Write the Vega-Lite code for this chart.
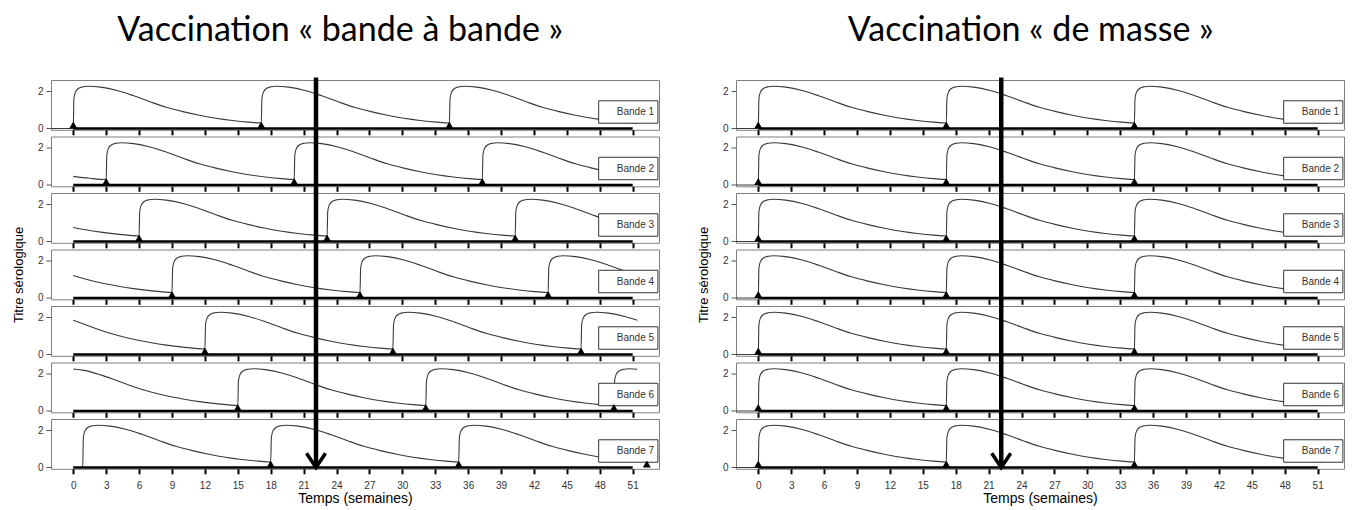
{
"$schema": "https://vega.github.io/schema/vega-lite/v6.json",
"background": "white",
"padding": {"left": 11, "top": 13, "right": 0, "bottom": 0},
"config": {
  "view": {"stroke": "#808080", "strokeWidth": 1},
  "axis": {"grid": false, "domain": false, "labelFont": "Liberation Sans", "labelFontSize": 10, "labelColor": "#333333", "labelOverlap": false, "labelFlush": false, "titleFont": "Liberation Sans", "titleFontWeight": "normal", "titleColor": "black"},
  "axisX": {"tickSize": 5, "tickWidth": 2, "tickColor": "black", "labelPadding": 7, "titleFontSize": 14, "titlePadding": 1, "tickCount": 30},
  "axisY": {"tickSize": 5, "tickWidth": 1, "tickColor": "#555555", "labelPadding": 3, "titleFontSize": 13, "titlePadding": 12},
  "title": {"font": "Lato", "fontSize": 34, "fontWeight": "normal", "color": "black", "anchor": "middle"}
},
"datasets": {
"bab": [
{"bande":1,"t":-2,"titre":0},{"bande":1,"t":0,"titre":0},
{"bande":1,"t":0.06,"titre":1.6},{"bande":1,"t":0.2,"titre":1.95},{"bande":1,"t":0.5,"titre":2.15},{"bande":1,"t":0.9,"titre":2.23},{"bande":1,"t":1.4,"titre":2.26},{"bande":1,"t":2.5,"titre":2.21},{"bande":1,"t":4,"titre":2.03},{"bande":1,"t":5.5,"titre":1.75},{"bande":1,"t":7,"titre":1.43},{"bande":1,"t":8.5,"titre":1.13},{"bande":1,"t":10,"titre":0.9},{"bande":1,"t":11.5,"titre":0.71},{"bande":1,"t":13,"titre":0.55},{"bande":1,"t":14.5,"titre":0.43},{"bande":1,"t":16,"titre":0.34},{"bande":1,"t":17.14,"titre":0.295},
{"bande":1,"t":17.2,"titre":1.6},{"bande":1,"t":17.34,"titre":1.95},{"bande":1,"t":17.64,"titre":2.15},{"bande":1,"t":18.04,"titre":2.23},{"bande":1,"t":18.54,"titre":2.26},{"bande":1,"t":19.64,"titre":2.21},{"bande":1,"t":21.14,"titre":2.03},{"bande":1,"t":22.64,"titre":1.75},{"bande":1,"t":24.14,"titre":1.43},{"bande":1,"t":25.64,"titre":1.13},{"bande":1,"t":27.14,"titre":0.9},{"bande":1,"t":28.64,"titre":0.71},{"bande":1,"t":30.14,"titre":0.55},{"bande":1,"t":31.64,"titre":0.43},{"bande":1,"t":33.14,"titre":0.34},{"bande":1,"t":34.29,"titre":0.295},
{"bande":1,"t":34.35,"titre":1.6},{"bande":1,"t":34.49,"titre":1.95},{"bande":1,"t":34.79,"titre":2.15},{"bande":1,"t":35.19,"titre":2.23},{"bande":1,"t":35.69,"titre":2.26},{"bande":1,"t":36.79,"titre":2.21},{"bande":1,"t":38.29,"titre":2.03},{"bande":1,"t":39.79,"titre":1.75},{"bande":1,"t":41.29,"titre":1.43},{"bande":1,"t":42.79,"titre":1.13},{"bande":1,"t":44.29,"titre":0.9},{"bande":1,"t":45.79,"titre":0.71},{"bande":1,"t":47.29,"titre":0.55},{"bande":1,"t":48.79,"titre":0.43},{"bande":1,"t":50.29,"titre":0.34},{"bande":1,"t":51.43,"titre":0.295},

{"bande":2,"t":0,"titre":0.46},{"bande":2,"t":1.5,"titre":0.36},{"bande":2,"t":3,"titre":0.295},
{"bande":2,"t":3.06,"titre":1.6},{"bande":2,"t":3.2,"titre":1.95},{"bande":2,"t":3.5,"titre":2.15},{"bande":2,"t":3.9,"titre":2.23},{"bande":2,"t":4.4,"titre":2.26},{"bande":2,"t":5.5,"titre":2.21},{"bande":2,"t":7,"titre":2.03},{"bande":2,"t":8.5,"titre":1.75},{"bande":2,"t":10,"titre":1.43},{"bande":2,"t":11.5,"titre":1.13},{"bande":2,"t":13,"titre":0.9},{"bande":2,"t":14.5,"titre":0.71},{"bande":2,"t":16,"titre":0.55},{"bande":2,"t":17.5,"titre":0.43},{"bande":2,"t":19,"titre":0.34},{"bande":2,"t":20.14,"titre":0.295},
{"bande":2,"t":20.2,"titre":1.6},{"bande":2,"t":20.34,"titre":1.95},{"bande":2,"t":20.64,"titre":2.15},{"bande":2,"t":21.04,"titre":2.23},{"bande":2,"t":21.54,"titre":2.26},{"bande":2,"t":22.64,"titre":2.21},{"bande":2,"t":24.14,"titre":2.03},{"bande":2,"t":25.64,"titre":1.75},{"bande":2,"t":27.14,"titre":1.43},{"bande":2,"t":28.64,"titre":1.13},{"bande":2,"t":30.14,"titre":0.9},{"bande":2,"t":31.64,"titre":0.71},{"bande":2,"t":33.14,"titre":0.55},{"bande":2,"t":34.64,"titre":0.43},{"bande":2,"t":36.14,"titre":0.34},{"bande":2,"t":37.29,"titre":0.295},
{"bande":2,"t":37.35,"titre":1.6},{"bande":2,"t":37.49,"titre":1.95},{"bande":2,"t":37.79,"titre":2.15},{"bande":2,"t":38.19,"titre":2.23},{"bande":2,"t":38.69,"titre":2.26},{"bande":2,"t":39.79,"titre":2.21},{"bande":2,"t":41.29,"titre":2.03},{"bande":2,"t":42.79,"titre":1.75},{"bande":2,"t":44.29,"titre":1.43},{"bande":2,"t":45.79,"titre":1.13},{"bande":2,"t":47.29,"titre":0.9},{"bande":2,"t":48.79,"titre":0.71},{"bande":2,"t":50.29,"titre":0.55},{"bande":2,"t":51.43,"titre":0.46},

{"bande":3,"t":0,"titre":0.75},{"bande":3,"t":1,"titre":0.64},{"bande":3,"t":2.5,"titre":0.5},{"bande":3,"t":4,"titre":0.395},{"bande":3,"t":6,"titre":0.295},
{"bande":3,"t":6.06,"titre":1.6},{"bande":3,"t":6.2,"titre":1.95},{"bande":3,"t":6.5,"titre":2.15},{"bande":3,"t":6.9,"titre":2.23},{"bande":3,"t":7.4,"titre":2.26},{"bande":3,"t":8.5,"titre":2.21},{"bande":3,"t":10,"titre":2.03},{"bande":3,"t":11.5,"titre":1.75},{"bande":3,"t":13,"titre":1.43},{"bande":3,"t":14.5,"titre":1.13},{"bande":3,"t":16,"titre":0.9},{"bande":3,"t":17.5,"titre":0.71},{"bande":3,"t":19,"titre":0.55},{"bande":3,"t":20.5,"titre":0.43},{"bande":3,"t":22,"titre":0.34},{"bande":3,"t":23.14,"titre":0.295},
{"bande":3,"t":23.2,"titre":1.6},{"bande":3,"t":23.34,"titre":1.95},{"bande":3,"t":23.64,"titre":2.15},{"bande":3,"t":24.04,"titre":2.23},{"bande":3,"t":24.54,"titre":2.26},{"bande":3,"t":25.64,"titre":2.21},{"bande":3,"t":27.14,"titre":2.03},{"bande":3,"t":28.64,"titre":1.75},{"bande":3,"t":30.14,"titre":1.43},{"bande":3,"t":31.64,"titre":1.13},{"bande":3,"t":33.14,"titre":0.9},{"bande":3,"t":34.64,"titre":0.71},{"bande":3,"t":36.14,"titre":0.55},{"bande":3,"t":37.64,"titre":0.43},{"bande":3,"t":39.14,"titre":0.34},{"bande":3,"t":40.29,"titre":0.295},
{"bande":3,"t":40.35,"titre":1.6},{"bande":3,"t":40.49,"titre":1.95},{"bande":3,"t":40.79,"titre":2.15},{"bande":3,"t":41.19,"titre":2.23},{"bande":3,"t":41.69,"titre":2.26},{"bande":3,"t":42.79,"titre":2.21},{"bande":3,"t":44.29,"titre":2.03},{"bande":3,"t":45.79,"titre":1.75},{"bande":3,"t":47.29,"titre":1.43},{"bande":3,"t":48.79,"titre":1.13},{"bande":3,"t":50.29,"titre":0.9},{"bande":3,"t":51.43,"titre":0.75},

{"bande":4,"t":0,"titre":1.2},{"bande":4,"t":1,"titre":1.03},{"bande":4,"t":2.5,"titre":0.81},{"bande":4,"t":4,"titre":0.64},{"bande":4,"t":5.5,"titre":0.5},{"bande":4,"t":7,"titre":0.395},{"bande":4,"t":9,"titre":0.295},
{"bande":4,"t":9.06,"titre":1.6},{"bande":4,"t":9.2,"titre":1.95},{"bande":4,"t":9.5,"titre":2.15},{"bande":4,"t":9.9,"titre":2.23},{"bande":4,"t":10.4,"titre":2.26},{"bande":4,"t":11.5,"titre":2.21},{"bande":4,"t":13,"titre":2.03},{"bande":4,"t":14.5,"titre":1.75},{"bande":4,"t":16,"titre":1.43},{"bande":4,"t":17.5,"titre":1.13},{"bande":4,"t":19,"titre":0.9},{"bande":4,"t":20.5,"titre":0.71},{"bande":4,"t":22,"titre":0.55},{"bande":4,"t":23.5,"titre":0.43},{"bande":4,"t":25,"titre":0.34},{"bande":4,"t":26.14,"titre":0.295},
{"bande":4,"t":26.2,"titre":1.6},{"bande":4,"t":26.34,"titre":1.95},{"bande":4,"t":26.64,"titre":2.15},{"bande":4,"t":27.04,"titre":2.23},{"bande":4,"t":27.54,"titre":2.26},{"bande":4,"t":28.64,"titre":2.21},{"bande":4,"t":30.14,"titre":2.03},{"bande":4,"t":31.64,"titre":1.75},{"bande":4,"t":33.14,"titre":1.43},{"bande":4,"t":34.64,"titre":1.13},{"bande":4,"t":36.14,"titre":0.9},{"bande":4,"t":37.64,"titre":0.71},{"bande":4,"t":39.14,"titre":0.55},{"bande":4,"t":40.64,"titre":0.43},{"bande":4,"t":42.14,"titre":0.34},{"bande":4,"t":43.29,"titre":0.295},
{"bande":4,"t":43.35,"titre":1.6},{"bande":4,"t":43.49,"titre":1.95},{"bande":4,"t":43.79,"titre":2.15},{"bande":4,"t":44.19,"titre":2.23},{"bande":4,"t":44.69,"titre":2.26},{"bande":4,"t":45.79,"titre":2.21},{"bande":4,"t":47.29,"titre":2.03},{"bande":4,"t":48.79,"titre":1.75},{"bande":4,"t":50.29,"titre":1.43},{"bande":4,"t":51.43,"titre":1.2},

{"bande":5,"t":0,"titre":1.83},{"bande":5,"t":1,"titre":1.62},{"bande":5,"t":2.5,"titre":1.3},{"bande":5,"t":4,"titre":1.03},{"bande":5,"t":5.5,"titre":0.81},{"bande":5,"t":7,"titre":0.64},{"bande":5,"t":8.5,"titre":0.5},{"bande":5,"t":10,"titre":0.395},{"bande":5,"t":12,"titre":0.295},
{"bande":5,"t":12.06,"titre":1.6},{"bande":5,"t":12.2,"titre":1.95},{"bande":5,"t":12.5,"titre":2.15},{"bande":5,"t":12.9,"titre":2.23},{"bande":5,"t":13.4,"titre":2.26},{"bande":5,"t":14.5,"titre":2.21},{"bande":5,"t":16,"titre":2.03},{"bande":5,"t":17.5,"titre":1.75},{"bande":5,"t":19,"titre":1.43},{"bande":5,"t":20.5,"titre":1.13},{"bande":5,"t":22,"titre":0.9},{"bande":5,"t":23.5,"titre":0.71},{"bande":5,"t":25,"titre":0.55},{"bande":5,"t":26.5,"titre":0.43},{"bande":5,"t":28,"titre":0.34},{"bande":5,"t":29.14,"titre":0.295},
{"bande":5,"t":29.2,"titre":1.6},{"bande":5,"t":29.34,"titre":1.95},{"bande":5,"t":29.64,"titre":2.15},{"bande":5,"t":30.04,"titre":2.23},{"bande":5,"t":30.54,"titre":2.26},{"bande":5,"t":31.64,"titre":2.21},{"bande":5,"t":33.14,"titre":2.03},{"bande":5,"t":34.64,"titre":1.75},{"bande":5,"t":36.14,"titre":1.43},{"bande":5,"t":37.64,"titre":1.13},{"bande":5,"t":39.14,"titre":0.9},{"bande":5,"t":40.64,"titre":0.71},{"bande":5,"t":42.14,"titre":0.55},{"bande":5,"t":43.64,"titre":0.43},{"bande":5,"t":45.14,"titre":0.34},{"bande":5,"t":46.29,"titre":0.295},
{"bande":5,"t":46.35,"titre":1.6},{"bande":5,"t":46.49,"titre":1.95},{"bande":5,"t":46.79,"titre":2.15},{"bande":5,"t":47.19,"titre":2.23},{"bande":5,"t":47.69,"titre":2.26},{"bande":5,"t":48.79,"titre":2.21},{"bande":5,"t":50.29,"titre":2.03},{"bande":5,"t":51.43,"titre":1.83},

{"bande":6,"t":0,"titre":2.24},{"bande":6,"t":1,"titre":2.17},{"bande":6,"t":2.5,"titre":1.93},{"bande":6,"t":4,"titre":1.62},{"bande":6,"t":5.5,"titre":1.3},{"bande":6,"t":7,"titre":1.03},{"bande":6,"t":8.5,"titre":0.81},{"bande":6,"t":10,"titre":0.64},{"bande":6,"t":11.5,"titre":0.5},{"bande":6,"t":13,"titre":0.395},{"bande":6,"t":15,"titre":0.295},
{"bande":6,"t":15.06,"titre":1.6},{"bande":6,"t":15.2,"titre":1.95},{"bande":6,"t":15.5,"titre":2.15},{"bande":6,"t":15.9,"titre":2.23},{"bande":6,"t":16.4,"titre":2.26},{"bande":6,"t":17.5,"titre":2.21},{"bande":6,"t":19,"titre":2.03},{"bande":6,"t":20.5,"titre":1.75},{"bande":6,"t":22,"titre":1.43},{"bande":6,"t":23.5,"titre":1.13},{"bande":6,"t":25,"titre":0.9},{"bande":6,"t":26.5,"titre":0.71},{"bande":6,"t":28,"titre":0.55},{"bande":6,"t":29.5,"titre":0.43},{"bande":6,"t":31,"titre":0.34},{"bande":6,"t":32.14,"titre":0.295},
{"bande":6,"t":32.2,"titre":1.6},{"bande":6,"t":32.34,"titre":1.95},{"bande":6,"t":32.64,"titre":2.15},{"bande":6,"t":33.04,"titre":2.23},{"bande":6,"t":33.54,"titre":2.26},{"bande":6,"t":34.64,"titre":2.21},{"bande":6,"t":36.14,"titre":2.03},{"bande":6,"t":37.64,"titre":1.75},{"bande":6,"t":39.14,"titre":1.43},{"bande":6,"t":40.64,"titre":1.13},{"bande":6,"t":42.14,"titre":0.9},{"bande":6,"t":43.64,"titre":0.71},{"bande":6,"t":45.14,"titre":0.55},{"bande":6,"t":46.64,"titre":0.43},{"bande":6,"t":48.14,"titre":0.34},{"bande":6,"t":49.29,"titre":0.295},
{"bande":6,"t":49.35,"titre":1.6},{"bande":6,"t":49.49,"titre":1.95},{"bande":6,"t":49.79,"titre":2.15},{"bande":6,"t":50.19,"titre":2.23},{"bande":6,"t":50.69,"titre":2.26},{"bande":6,"t":51.43,"titre":2.23},

{"bande":7,"t":0,"titre":0},{"bande":7,"t":0.86,"titre":0},
{"bande":7,"t":0.92,"titre":1.6},{"bande":7,"t":1.06,"titre":1.95},{"bande":7,"t":1.36,"titre":2.15},{"bande":7,"t":1.76,"titre":2.23},{"bande":7,"t":2.26,"titre":2.26},{"bande":7,"t":3.36,"titre":2.21},{"bande":7,"t":4.86,"titre":2.03},{"bande":7,"t":6.36,"titre":1.75},{"bande":7,"t":7.86,"titre":1.43},{"bande":7,"t":9.36,"titre":1.13},{"bande":7,"t":10.86,"titre":0.9},{"bande":7,"t":12.36,"titre":0.71},{"bande":7,"t":13.86,"titre":0.55},{"bande":7,"t":15.36,"titre":0.43},{"bande":7,"t":16.86,"titre":0.34},{"bande":7,"t":18,"titre":0.295},
{"bande":7,"t":18.06,"titre":1.6},{"bande":7,"t":18.2,"titre":1.95},{"bande":7,"t":18.5,"titre":2.15},{"bande":7,"t":18.9,"titre":2.23},{"bande":7,"t":19.4,"titre":2.26},{"bande":7,"t":20.5,"titre":2.21},{"bande":7,"t":22,"titre":2.03},{"bande":7,"t":23.5,"titre":1.75},{"bande":7,"t":25,"titre":1.43},{"bande":7,"t":26.5,"titre":1.13},{"bande":7,"t":28,"titre":0.9},{"bande":7,"t":29.5,"titre":0.71},{"bande":7,"t":31,"titre":0.55},{"bande":7,"t":32.5,"titre":0.43},{"bande":7,"t":34,"titre":0.34},{"bande":7,"t":35.14,"titre":0.295},
{"bande":7,"t":35.2,"titre":1.6},{"bande":7,"t":35.34,"titre":1.95},{"bande":7,"t":35.64,"titre":2.15},{"bande":7,"t":36.04,"titre":2.23},{"bande":7,"t":36.54,"titre":2.26},{"bande":7,"t":37.64,"titre":2.21},{"bande":7,"t":39.14,"titre":2.03},{"bande":7,"t":40.64,"titre":1.75},{"bande":7,"t":42.14,"titre":1.43},{"bande":7,"t":43.64,"titre":1.13},{"bande":7,"t":45.14,"titre":0.9},{"bande":7,"t":46.64,"titre":0.71},{"bande":7,"t":48.14,"titre":0.55},{"bande":7,"t":49.64,"titre":0.43},{"bande":7,"t":51.14,"titre":0.34},{"bande":7,"t":51.43,"titre":0.33}
],
"masse": [
{"t":-2,"titre":0},{"t":0,"titre":0},
{"t":0.06,"titre":1.6},{"t":0.2,"titre":1.95},{"t":0.5,"titre":2.15},{"t":0.9,"titre":2.23},{"t":1.4,"titre":2.26},{"t":2.5,"titre":2.21},{"t":4,"titre":2.03},{"t":5.5,"titre":1.75},{"t":7,"titre":1.43},{"t":8.5,"titre":1.13},{"t":10,"titre":0.9},{"t":11.5,"titre":0.71},{"t":13,"titre":0.55},{"t":14.5,"titre":0.43},{"t":16,"titre":0.34},{"t":17.14,"titre":0.295},
{"t":17.2,"titre":1.6},{"t":17.34,"titre":1.95},{"t":17.64,"titre":2.15},{"t":18.04,"titre":2.23},{"t":18.54,"titre":2.26},{"t":19.64,"titre":2.21},{"t":21.14,"titre":2.03},{"t":22.64,"titre":1.75},{"t":24.14,"titre":1.43},{"t":25.64,"titre":1.13},{"t":27.14,"titre":0.9},{"t":28.64,"titre":0.71},{"t":30.14,"titre":0.55},{"t":31.64,"titre":0.43},{"t":33.14,"titre":0.34},{"t":34.29,"titre":0.295},
{"t":34.35,"titre":1.6},{"t":34.49,"titre":1.95},{"t":34.79,"titre":2.15},{"t":35.19,"titre":2.23},{"t":35.69,"titre":2.26},{"t":36.79,"titre":2.21},{"t":38.29,"titre":2.03},{"t":39.79,"titre":1.75},{"t":41.29,"titre":1.43},{"t":42.79,"titre":1.13},{"t":44.29,"titre":0.9},{"t":45.79,"titre":0.71},{"t":47.29,"titre":0.55},{"t":48.79,"titre":0.43},{"t":50.29,"titre":0.34},{"t":51.43,"titre":0.295}
],
"vbab": [
{"bande":1,"t":0},{"bande":1,"t":17.14},{"bande":1,"t":34.29},
{"bande":2,"t":3},{"bande":2,"t":20.14},{"bande":2,"t":37.29},
{"bande":3,"t":6},{"bande":3,"t":23.14},{"bande":3,"t":40.29},
{"bande":4,"t":9},{"bande":4,"t":26.14},{"bande":4,"t":43.29},
{"bande":5,"t":12},{"bande":5,"t":29.14},{"bande":5,"t":46.29},
{"bande":6,"t":15},{"bande":6,"t":32.14},{"bande":6,"t":49.29},
{"bande":7,"t":18},{"bande":7,"t":35.14},{"bande":7,"t":52.29}
],
"vmasse": [{"t":0},{"t":17.14},{"t":34.29}]
},
"hconcat": [
{
"title": {"text": "Vaccination « bande à bande »", "dx": 4.5, "offset": 27},
"bounds": "flush",
"spacing": 6.5,
"vconcat": [
{"width":608,"height":49.8,"layer":[
{"data":{"name":"bab"},"transform":[{"filter":"datum.bande==1"}],"mark":{"type":"line","interpolate":"monotone","stroke":"#3a3a3a","strokeWidth":1.1},"encoding":{"x":{"field":"t","type":"quantitative","scale":{"domain":[-2.03,53.4],"nice":false,"zero":false},"axis":{"values":[0,3,6,9,12,15,18,21,24,27,30,33,36,39,42,45,48,51],"tickCount":30,"labels":false,"title":null}},"y":{"field":"titre","type":"quantitative","scale":{"domain":[-0.07,2.59],"nice":false,"zero":false},"axis":{"values":[0,1,2],"title":null}}}},
{"data":{"values":[{}]},"mark":{"type":"rule","color":"black","strokeWidth":2.5},"encoding":{"x":{"datum":0},"x2":{"datum":51},"y":{"datum":0}}},
{"data":{"values":[{}]},"mark":{"type":"rect","fill":"white","stroke":"#333333","strokeWidth":1},"encoding":{"x":{"datum":47.9},"x2":{"datum":53.3},"y":{"datum":0.28},"y2":{"datum":1.48}}},
{"data":{"values":[{}]},"mark":{"type":"text","text":"Bande 1","align":"right","baseline":"middle","fontSize":10,"font":"Liberation Sans","color":"#333333"},"encoding":{"x":{"datum":52.95},"y":{"datum":0.88}}},
{"data":{"name":"vbab"},"transform":[{"filter":"datum.bande==1"}],"mark":{"type":"point","shape":"triangle-up","filled":true,"color":"black","opacity":1,"size":64},"encoding":{"x":{"field":"t","type":"quantitative"},"y":{"datum":0.19}}},
{"data":{"values":[{}]},"mark":{"type":"rule","color":"black","strokeWidth":4.5},"encoding":{"x":{"datum":22.13},"y":{"datum":-0.45},"y2":{"datum":2.72}}}
]},
{"width":608,"height":49.8,"layer":[
{"data":{"name":"bab"},"transform":[{"filter":"datum.bande==2"}],"mark":{"type":"line","interpolate":"monotone","stroke":"#3a3a3a","strokeWidth":1.1},"encoding":{"x":{"field":"t","type":"quantitative","scale":{"domain":[-2.03,53.4],"nice":false,"zero":false},"axis":{"values":[0,3,6,9,12,15,18,21,24,27,30,33,36,39,42,45,48,51],"tickCount":30,"labels":false,"title":null}},"y":{"field":"titre","type":"quantitative","scale":{"domain":[-0.07,2.59],"nice":false,"zero":false},"axis":{"values":[0,1,2],"title":null}}}},
{"data":{"values":[{}]},"mark":{"type":"rule","color":"black","strokeWidth":2.5},"encoding":{"x":{"datum":0},"x2":{"datum":51},"y":{"datum":0}}},
{"data":{"values":[{}]},"mark":{"type":"rect","fill":"white","stroke":"#333333","strokeWidth":1},"encoding":{"x":{"datum":47.9},"x2":{"datum":53.3},"y":{"datum":0.28},"y2":{"datum":1.48}}},
{"data":{"values":[{}]},"mark":{"type":"text","text":"Bande 2","align":"right","baseline":"middle","fontSize":10,"font":"Liberation Sans","color":"#333333"},"encoding":{"x":{"datum":52.95},"y":{"datum":0.88}}},
{"data":{"name":"vbab"},"transform":[{"filter":"datum.bande==2"}],"mark":{"type":"point","shape":"triangle-up","filled":true,"color":"black","opacity":1,"size":64},"encoding":{"x":{"field":"t","type":"quantitative"},"y":{"datum":0.19}}},
{"data":{"values":[{}]},"mark":{"type":"rule","color":"black","strokeWidth":4.5},"encoding":{"x":{"datum":22.13},"y":{"datum":-0.45},"y2":{"datum":2.62}}}
]},
{"width":608,"height":49.8,"layer":[
{"data":{"name":"bab"},"transform":[{"filter":"datum.bande==3"}],"mark":{"type":"line","interpolate":"monotone","stroke":"#3a3a3a","strokeWidth":1.1},"encoding":{"x":{"field":"t","type":"quantitative","scale":{"domain":[-2.03,53.4],"nice":false,"zero":false},"axis":{"values":[0,3,6,9,12,15,18,21,24,27,30,33,36,39,42,45,48,51],"tickCount":30,"labels":false,"title":null}},"y":{"field":"titre","type":"quantitative","scale":{"domain":[-0.07,2.59],"nice":false,"zero":false},"axis":{"values":[0,1,2],"title":null}}}},
{"data":{"values":[{}]},"mark":{"type":"rule","color":"black","strokeWidth":2.5},"encoding":{"x":{"datum":0},"x2":{"datum":51},"y":{"datum":0}}},
{"data":{"values":[{}]},"mark":{"type":"rect","fill":"white","stroke":"#333333","strokeWidth":1},"encoding":{"x":{"datum":47.9},"x2":{"datum":53.3},"y":{"datum":0.28},"y2":{"datum":1.48}}},
{"data":{"values":[{}]},"mark":{"type":"text","text":"Bande 3","align":"right","baseline":"middle","fontSize":10,"font":"Liberation Sans","color":"#333333"},"encoding":{"x":{"datum":52.95},"y":{"datum":0.88}}},
{"data":{"name":"vbab"},"transform":[{"filter":"datum.bande==3"}],"mark":{"type":"point","shape":"triangle-up","filled":true,"color":"black","opacity":1,"size":64},"encoding":{"x":{"field":"t","type":"quantitative"},"y":{"datum":0.19}}},
{"data":{"values":[{}]},"mark":{"type":"rule","color":"black","strokeWidth":4.5},"encoding":{"x":{"datum":22.13},"y":{"datum":-0.45},"y2":{"datum":2.62}}}
]},
{"width":608,"height":49.8,"layer":[
{"data":{"name":"bab"},"transform":[{"filter":"datum.bande==4"}],"mark":{"type":"line","interpolate":"monotone","stroke":"#3a3a3a","strokeWidth":1.1},"encoding":{"x":{"field":"t","type":"quantitative","scale":{"domain":[-2.03,53.4],"nice":false,"zero":false},"axis":{"values":[0,3,6,9,12,15,18,21,24,27,30,33,36,39,42,45,48,51],"tickCount":30,"labels":false,"title":null}},"y":{"field":"titre","type":"quantitative","scale":{"domain":[-0.07,2.59],"nice":false,"zero":false},"axis":{"values":[0,1,2],"title":"Titre sérologique"}}}},
{"data":{"values":[{}]},"mark":{"type":"rule","color":"black","strokeWidth":2.5},"encoding":{"x":{"datum":0},"x2":{"datum":51},"y":{"datum":0}}},
{"data":{"values":[{}]},"mark":{"type":"rect","fill":"white","stroke":"#333333","strokeWidth":1},"encoding":{"x":{"datum":47.9},"x2":{"datum":53.3},"y":{"datum":0.28},"y2":{"datum":1.48}}},
{"data":{"values":[{}]},"mark":{"type":"text","text":"Bande 4","align":"right","baseline":"middle","fontSize":10,"font":"Liberation Sans","color":"#333333"},"encoding":{"x":{"datum":52.95},"y":{"datum":0.88}}},
{"data":{"name":"vbab"},"transform":[{"filter":"datum.bande==4"}],"mark":{"type":"point","shape":"triangle-up","filled":true,"color":"black","opacity":1,"size":64},"encoding":{"x":{"field":"t","type":"quantitative"},"y":{"datum":0.19}}},
{"data":{"values":[{}]},"mark":{"type":"rule","color":"black","strokeWidth":4.5},"encoding":{"x":{"datum":22.13},"y":{"datum":-0.45},"y2":{"datum":2.62}}}
]},
{"width":608,"height":49.8,"layer":[
{"data":{"name":"bab"},"transform":[{"filter":"datum.bande==5"}],"mark":{"type":"line","interpolate":"monotone","stroke":"#3a3a3a","strokeWidth":1.1},"encoding":{"x":{"field":"t","type":"quantitative","scale":{"domain":[-2.03,53.4],"nice":false,"zero":false},"axis":{"values":[0,3,6,9,12,15,18,21,24,27,30,33,36,39,42,45,48,51],"tickCount":30,"labels":false,"title":null}},"y":{"field":"titre","type":"quantitative","scale":{"domain":[-0.07,2.59],"nice":false,"zero":false},"axis":{"values":[0,1,2],"title":null}}}},
{"data":{"values":[{}]},"mark":{"type":"rule","color":"black","strokeWidth":2.5},"encoding":{"x":{"datum":0},"x2":{"datum":51},"y":{"datum":0}}},
{"data":{"values":[{}]},"mark":{"type":"rect","fill":"white","stroke":"#333333","strokeWidth":1},"encoding":{"x":{"datum":47.9},"x2":{"datum":53.3},"y":{"datum":0.28},"y2":{"datum":1.48}}},
{"data":{"values":[{}]},"mark":{"type":"text","text":"Bande 5","align":"right","baseline":"middle","fontSize":10,"font":"Liberation Sans","color":"#333333"},"encoding":{"x":{"datum":52.95},"y":{"datum":0.88}}},
{"data":{"name":"vbab"},"transform":[{"filter":"datum.bande==5"}],"mark":{"type":"point","shape":"triangle-up","filled":true,"color":"black","opacity":1,"size":64},"encoding":{"x":{"field":"t","type":"quantitative"},"y":{"datum":0.19}}},
{"data":{"values":[{}]},"mark":{"type":"rule","color":"black","strokeWidth":4.5},"encoding":{"x":{"datum":22.13},"y":{"datum":-0.45},"y2":{"datum":2.62}}}
]},
{"width":608,"height":49.8,"layer":[
{"data":{"name":"bab"},"transform":[{"filter":"datum.bande==6"}],"mark":{"type":"line","interpolate":"monotone","stroke":"#3a3a3a","strokeWidth":1.1},"encoding":{"x":{"field":"t","type":"quantitative","scale":{"domain":[-2.03,53.4],"nice":false,"zero":false},"axis":{"values":[0,3,6,9,12,15,18,21,24,27,30,33,36,39,42,45,48,51],"tickCount":30,"labels":false,"title":null}},"y":{"field":"titre","type":"quantitative","scale":{"domain":[-0.07,2.59],"nice":false,"zero":false},"axis":{"values":[0,1,2],"title":null}}}},
{"data":{"values":[{}]},"mark":{"type":"rule","color":"black","strokeWidth":2.5},"encoding":{"x":{"datum":0},"x2":{"datum":51},"y":{"datum":0}}},
{"data":{"values":[{}]},"mark":{"type":"rect","fill":"white","stroke":"#333333","strokeWidth":1},"encoding":{"x":{"datum":47.9},"x2":{"datum":53.3},"y":{"datum":0.28},"y2":{"datum":1.48}}},
{"data":{"values":[{}]},"mark":{"type":"text","text":"Bande 6","align":"right","baseline":"middle","fontSize":10,"font":"Liberation Sans","color":"#333333"},"encoding":{"x":{"datum":52.95},"y":{"datum":0.88}}},
{"data":{"name":"vbab"},"transform":[{"filter":"datum.bande==6"}],"mark":{"type":"point","shape":"triangle-up","filled":true,"color":"black","opacity":1,"size":64},"encoding":{"x":{"field":"t","type":"quantitative"},"y":{"datum":0.19}}},
{"data":{"values":[{}]},"mark":{"type":"rule","color":"black","strokeWidth":4.5},"encoding":{"x":{"datum":22.13},"y":{"datum":-0.45},"y2":{"datum":2.62}}}
]},
{"width":608,"height":49.8,"layer":[
{"data":{"name":"bab"},"transform":[{"filter":"datum.bande==7"}],"mark":{"type":"line","interpolate":"monotone","stroke":"#3a3a3a","strokeWidth":1.1},"encoding":{"x":{"field":"t","type":"quantitative","scale":{"domain":[-2.03,53.4],"nice":false,"zero":false},"axis":{"values":[0,3,6,9,12,15,18,21,24,27,30,33,36,39,42,45,48,51],"tickCount":30,"labels":true,"labelOverlap":false,"labelFlush":false,"title":"Temps (semaines)"}},"y":{"field":"titre","type":"quantitative","scale":{"domain":[-0.07,2.59],"nice":false,"zero":false},"axis":{"values":[0,1,2],"title":null}}}},
{"data":{"values":[{}]},"mark":{"type":"rule","color":"black","strokeWidth":2.5},"encoding":{"x":{"datum":0},"x2":{"datum":51},"y":{"datum":0}}},
{"data":{"values":[{}]},"mark":{"type":"rect","fill":"white","stroke":"#333333","strokeWidth":1},"encoding":{"x":{"datum":47.9},"x2":{"datum":53.3},"y":{"datum":0.28},"y2":{"datum":1.48}}},
{"data":{"values":[{}]},"mark":{"type":"text","text":"Bande 7","align":"right","baseline":"middle","fontSize":10,"font":"Liberation Sans","color":"#333333"},"encoding":{"x":{"datum":52.95},"y":{"datum":0.88}}},
{"data":{"name":"vbab"},"transform":[{"filter":"datum.bande==7"}],"mark":{"type":"point","shape":"triangle-up","filled":true,"color":"black","opacity":1,"size":64},"encoding":{"x":{"field":"t","type":"quantitative"},"y":{"datum":0.19}}},
{"data":{"values":[{}]},"mark":{"type":"rule","color":"black","strokeWidth":4.5},"encoding":{"x":{"datum":22.13},"y":{"datum":0},"y2":{"datum":2.62}}},
{"data":{"values":[{}]},"mark":{"type":"point","shape":"M-1,-1.5L0,0L1,-1.5","filled":false,"stroke":"black","strokeWidth":3.5,"opacity":1,"size":361},"encoding":{"x":{"datum":22.13},"y":{"datum":0}}}
]}
]
},
{
"title": {"text": "Vaccination « de masse »", "dx": 10, "offset": 27},
"bounds": "flush",
"spacing": 6.5,
"vconcat": [
{"width":608,"height":49.8,"layer":[
{"data":{"name":"masse"},"mark":{"type":"line","interpolate":"monotone","stroke":"#3a3a3a","strokeWidth":1.1},"encoding":{"x":{"field":"t","type":"quantitative","scale":{"domain":[-2.03,53.4],"nice":false,"zero":false},"axis":{"values":[0,3,6,9,12,15,18,21,24,27,30,33,36,39,42,45,48,51],"tickCount":30,"labels":false,"title":null}},"y":{"field":"titre","type":"quantitative","scale":{"domain":[-0.07,2.59],"nice":false,"zero":false},"axis":{"values":[0,1,2],"title":null}}}},
{"data":{"values":[{}]},"mark":{"type":"rule","color":"black","strokeWidth":2.5},"encoding":{"x":{"datum":0},"x2":{"datum":51},"y":{"datum":0}}},
{"data":{"values":[{}]},"mark":{"type":"rect","fill":"white","stroke":"#333333","strokeWidth":1},"encoding":{"x":{"datum":47.9},"x2":{"datum":53.3},"y":{"datum":0.28},"y2":{"datum":1.48}}},
{"data":{"values":[{}]},"mark":{"type":"text","text":"Bande 1","align":"right","baseline":"middle","fontSize":10,"font":"Liberation Sans","color":"#333333"},"encoding":{"x":{"datum":52.95},"y":{"datum":0.88}}},
{"data":{"name":"vmasse"},"mark":{"type":"point","shape":"triangle-up","filled":true,"color":"black","opacity":1,"size":64},"encoding":{"x":{"field":"t","type":"quantitative"},"y":{"datum":0.19}}},
{"data":{"values":[{}]},"mark":{"type":"rule","color":"black","strokeWidth":4.5},"encoding":{"x":{"datum":22.15},"y":{"datum":-0.45},"y2":{"datum":2.72}}}
]},
{"width":608,"height":49.8,"layer":[
{"data":{"name":"masse"},"mark":{"type":"line","interpolate":"monotone","stroke":"#3a3a3a","strokeWidth":1.1},"encoding":{"x":{"field":"t","type":"quantitative","scale":{"domain":[-2.03,53.4],"nice":false,"zero":false},"axis":{"values":[0,3,6,9,12,15,18,21,24,27,30,33,36,39,42,45,48,51],"tickCount":30,"labels":false,"title":null}},"y":{"field":"titre","type":"quantitative","scale":{"domain":[-0.07,2.59],"nice":false,"zero":false},"axis":{"values":[0,1,2],"title":null}}}},
{"data":{"values":[{}]},"mark":{"type":"rule","color":"black","strokeWidth":2.5},"encoding":{"x":{"datum":0},"x2":{"datum":51},"y":{"datum":0}}},
{"data":{"values":[{}]},"mark":{"type":"rect","fill":"white","stroke":"#333333","strokeWidth":1},"encoding":{"x":{"datum":47.9},"x2":{"datum":53.3},"y":{"datum":0.28},"y2":{"datum":1.48}}},
{"data":{"values":[{}]},"mark":{"type":"text","text":"Bande 2","align":"right","baseline":"middle","fontSize":10,"font":"Liberation Sans","color":"#333333"},"encoding":{"x":{"datum":52.95},"y":{"datum":0.88}}},
{"data":{"name":"vmasse"},"mark":{"type":"point","shape":"triangle-up","filled":true,"color":"black","opacity":1,"size":64},"encoding":{"x":{"field":"t","type":"quantitative"},"y":{"datum":0.19}}},
{"data":{"values":[{}]},"mark":{"type":"rule","color":"black","strokeWidth":4.5},"encoding":{"x":{"datum":22.15},"y":{"datum":-0.45},"y2":{"datum":2.62}}}
]},
{"width":608,"height":49.8,"layer":[
{"data":{"name":"masse"},"mark":{"type":"line","interpolate":"monotone","stroke":"#3a3a3a","strokeWidth":1.1},"encoding":{"x":{"field":"t","type":"quantitative","scale":{"domain":[-2.03,53.4],"nice":false,"zero":false},"axis":{"values":[0,3,6,9,12,15,18,21,24,27,30,33,36,39,42,45,48,51],"tickCount":30,"labels":false,"title":null}},"y":{"field":"titre","type":"quantitative","scale":{"domain":[-0.07,2.59],"nice":false,"zero":false},"axis":{"values":[0,1,2],"title":null}}}},
{"data":{"values":[{}]},"mark":{"type":"rule","color":"black","strokeWidth":2.5},"encoding":{"x":{"datum":0},"x2":{"datum":51},"y":{"datum":0}}},
{"data":{"values":[{}]},"mark":{"type":"rect","fill":"white","stroke":"#333333","strokeWidth":1},"encoding":{"x":{"datum":47.9},"x2":{"datum":53.3},"y":{"datum":0.28},"y2":{"datum":1.48}}},
{"data":{"values":[{}]},"mark":{"type":"text","text":"Bande 3","align":"right","baseline":"middle","fontSize":10,"font":"Liberation Sans","color":"#333333"},"encoding":{"x":{"datum":52.95},"y":{"datum":0.88}}},
{"data":{"name":"vmasse"},"mark":{"type":"point","shape":"triangle-up","filled":true,"color":"black","opacity":1,"size":64},"encoding":{"x":{"field":"t","type":"quantitative"},"y":{"datum":0.19}}},
{"data":{"values":[{}]},"mark":{"type":"rule","color":"black","strokeWidth":4.5},"encoding":{"x":{"datum":22.15},"y":{"datum":-0.45},"y2":{"datum":2.62}}}
]},
{"width":608,"height":49.8,"layer":[
{"data":{"name":"masse"},"mark":{"type":"line","interpolate":"monotone","stroke":"#3a3a3a","strokeWidth":1.1},"encoding":{"x":{"field":"t","type":"quantitative","scale":{"domain":[-2.03,53.4],"nice":false,"zero":false},"axis":{"values":[0,3,6,9,12,15,18,21,24,27,30,33,36,39,42,45,48,51],"tickCount":30,"labels":false,"title":null}},"y":{"field":"titre","type":"quantitative","scale":{"domain":[-0.07,2.59],"nice":false,"zero":false},"axis":{"values":[0,1,2],"title":"Titre sérologique"}}}},
{"data":{"values":[{}]},"mark":{"type":"rule","color":"black","strokeWidth":2.5},"encoding":{"x":{"datum":0},"x2":{"datum":51},"y":{"datum":0}}},
{"data":{"values":[{}]},"mark":{"type":"rect","fill":"white","stroke":"#333333","strokeWidth":1},"encoding":{"x":{"datum":47.9},"x2":{"datum":53.3},"y":{"datum":0.28},"y2":{"datum":1.48}}},
{"data":{"values":[{}]},"mark":{"type":"text","text":"Bande 4","align":"right","baseline":"middle","fontSize":10,"font":"Liberation Sans","color":"#333333"},"encoding":{"x":{"datum":52.95},"y":{"datum":0.88}}},
{"data":{"name":"vmasse"},"mark":{"type":"point","shape":"triangle-up","filled":true,"color":"black","opacity":1,"size":64},"encoding":{"x":{"field":"t","type":"quantitative"},"y":{"datum":0.19}}},
{"data":{"values":[{}]},"mark":{"type":"rule","color":"black","strokeWidth":4.5},"encoding":{"x":{"datum":22.15},"y":{"datum":-0.45},"y2":{"datum":2.62}}}
]},
{"width":608,"height":49.8,"layer":[
{"data":{"name":"masse"},"mark":{"type":"line","interpolate":"monotone","stroke":"#3a3a3a","strokeWidth":1.1},"encoding":{"x":{"field":"t","type":"quantitative","scale":{"domain":[-2.03,53.4],"nice":false,"zero":false},"axis":{"values":[0,3,6,9,12,15,18,21,24,27,30,33,36,39,42,45,48,51],"tickCount":30,"labels":false,"title":null}},"y":{"field":"titre","type":"quantitative","scale":{"domain":[-0.07,2.59],"nice":false,"zero":false},"axis":{"values":[0,1,2],"title":null}}}},
{"data":{"values":[{}]},"mark":{"type":"rule","color":"black","strokeWidth":2.5},"encoding":{"x":{"datum":0},"x2":{"datum":51},"y":{"datum":0}}},
{"data":{"values":[{}]},"mark":{"type":"rect","fill":"white","stroke":"#333333","strokeWidth":1},"encoding":{"x":{"datum":47.9},"x2":{"datum":53.3},"y":{"datum":0.28},"y2":{"datum":1.48}}},
{"data":{"values":[{}]},"mark":{"type":"text","text":"Bande 5","align":"right","baseline":"middle","fontSize":10,"font":"Liberation Sans","color":"#333333"},"encoding":{"x":{"datum":52.95},"y":{"datum":0.88}}},
{"data":{"name":"vmasse"},"mark":{"type":"point","shape":"triangle-up","filled":true,"color":"black","opacity":1,"size":64},"encoding":{"x":{"field":"t","type":"quantitative"},"y":{"datum":0.19}}},
{"data":{"values":[{}]},"mark":{"type":"rule","color":"black","strokeWidth":4.5},"encoding":{"x":{"datum":22.15},"y":{"datum":-0.45},"y2":{"datum":2.62}}}
]},
{"width":608,"height":49.8,"layer":[
{"data":{"name":"masse"},"mark":{"type":"line","interpolate":"monotone","stroke":"#3a3a3a","strokeWidth":1.1},"encoding":{"x":{"field":"t","type":"quantitative","scale":{"domain":[-2.03,53.4],"nice":false,"zero":false},"axis":{"values":[0,3,6,9,12,15,18,21,24,27,30,33,36,39,42,45,48,51],"tickCount":30,"labels":false,"title":null}},"y":{"field":"titre","type":"quantitative","scale":{"domain":[-0.07,2.59],"nice":false,"zero":false},"axis":{"values":[0,1,2],"title":null}}}},
{"data":{"values":[{}]},"mark":{"type":"rule","color":"black","strokeWidth":2.5},"encoding":{"x":{"datum":0},"x2":{"datum":51},"y":{"datum":0}}},
{"data":{"values":[{}]},"mark":{"type":"rect","fill":"white","stroke":"#333333","strokeWidth":1},"encoding":{"x":{"datum":47.9},"x2":{"datum":53.3},"y":{"datum":0.28},"y2":{"datum":1.48}}},
{"data":{"values":[{}]},"mark":{"type":"text","text":"Bande 6","align":"right","baseline":"middle","fontSize":10,"font":"Liberation Sans","color":"#333333"},"encoding":{"x":{"datum":52.95},"y":{"datum":0.88}}},
{"data":{"name":"vmasse"},"mark":{"type":"point","shape":"triangle-up","filled":true,"color":"black","opacity":1,"size":64},"encoding":{"x":{"field":"t","type":"quantitative"},"y":{"datum":0.19}}},
{"data":{"values":[{}]},"mark":{"type":"rule","color":"black","strokeWidth":4.5},"encoding":{"x":{"datum":22.15},"y":{"datum":-0.45},"y2":{"datum":2.62}}}
]},
{"width":608,"height":49.8,"layer":[
{"data":{"name":"masse"},"mark":{"type":"line","interpolate":"monotone","stroke":"#3a3a3a","strokeWidth":1.1},"encoding":{"x":{"field":"t","type":"quantitative","scale":{"domain":[-2.03,53.4],"nice":false,"zero":false},"axis":{"values":[0,3,6,9,12,15,18,21,24,27,30,33,36,39,42,45,48,51],"tickCount":30,"labels":true,"labelOverlap":false,"labelFlush":false,"title":"Temps (semaines)"}},"y":{"field":"titre","type":"quantitative","scale":{"domain":[-0.07,2.59],"nice":false,"zero":false},"axis":{"values":[0,1,2],"title":null}}}},
{"data":{"values":[{}]},"mark":{"type":"rule","color":"black","strokeWidth":2.5},"encoding":{"x":{"datum":0},"x2":{"datum":51},"y":{"datum":0}}},
{"data":{"values":[{}]},"mark":{"type":"rect","fill":"white","stroke":"#333333","strokeWidth":1},"encoding":{"x":{"datum":47.9},"x2":{"datum":53.3},"y":{"datum":0.28},"y2":{"datum":1.48}}},
{"data":{"values":[{}]},"mark":{"type":"text","text":"Bande 7","align":"right","baseline":"middle","fontSize":10,"font":"Liberation Sans","color":"#333333"},"encoding":{"x":{"datum":52.95},"y":{"datum":0.88}}},
{"data":{"name":"vmasse"},"mark":{"type":"point","shape":"triangle-up","filled":true,"color":"black","opacity":1,"size":64},"encoding":{"x":{"field":"t","type":"quantitative"},"y":{"datum":0.19}}},
{"data":{"values":[{}]},"mark":{"type":"rule","color":"black","strokeWidth":4.5},"encoding":{"x":{"datum":22.15},"y":{"datum":0},"y2":{"datum":2.62}}},
{"data":{"values":[{}]},"mark":{"type":"point","shape":"M-1,-1.5L0,0L1,-1.5","filled":false,"stroke":"black","strokeWidth":3.5,"opacity":1,"size":361},"encoding":{"x":{"datum":22.15},"y":{"datum":0}}}
]}
]
}
],
"spacing": 36
}
